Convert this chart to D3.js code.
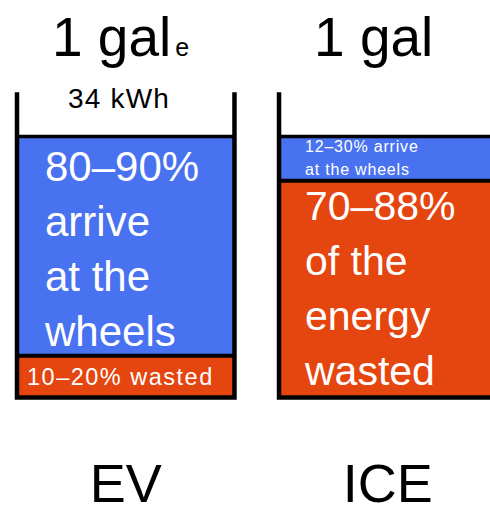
<!DOCTYPE html>
<html>
<head>
<meta charset="utf-8">
<script src="https://cdn.jsdelivr.net/npm/d3@7"></script>
<style>
  html, body { margin: 0; padding: 0; background: #fff; }
  svg { display: block; }
  text { font-family: "Liberation Sans", Arial, Helvetica, sans-serif; }
</style>
</head>
<body>
<svg id="chart" width="490" height="505"></svg>
<script>
// Energy per gallon (or gallon-equivalent) that reaches the wheels vs. is wasted
const vehicles = ["EV", "ICE"];
const arrivePct = [84, 17];
const wastedPct = [16, 83];
const tankCapacity = 117;           // cup drawn a little taller than the filled 100%
const titleMain = ["1 gal", "1 gal"];
const titleSub = ["e", ""];
const capacityLabels = ["34 kWh", ""];
const arriveLines = [["80–90%", "arrive", "at the", "wheels"], ["12–30% arrive", "at the wheels"]];
const wastedLines = [["10–20% wasted"], ["70–88%", "of the", "energy", "wasted"]];

const COLORS = { arrive: "#4872F0", wasted: "#E5450F", ink: "#000" };

// Text styles for segment labels: [vehicle][segment]
const labelStyle = {
  arrive: [
    { size: 42, spacing: 0, dx: 28, first: 43, lead: 55 },
    { size: 16, spacing: 0.8, dx: 26, first: 14, lead: 23 }
  ],
  wasted: [
    { size: 23.5, spacing: 1.5, dx: 10, first: 28, lead: 26 },
    { size: 41, spacing: 0, dx: 26, first: 37, lead: 55 }
  ]
};

const svg = d3.select("#chart");

const x = d3.scaleBand()
  .domain(vehicles)
  .range([17, 496.5])
  .paddingInner(0.17)
  .paddingOuter(0);

const y = d3.scaleLinear()
  .domain([0, 100])
  .range([397.5, 136.5]);

const data = vehicles.map((v, i) => ({
  v, i,
  arrive: arrivePct[i],
  wasted: wastedPct[i]
}));

const g = svg.selectAll("g.tank").data(data).join("g").attr("class", "tank");

// wasted fill at the bottom, arriving energy stacked on top
g.append("rect")
  .attr("x", d => x(d.v))
  .attr("width", x.bandwidth())
  .attr("y", d => y(d.wasted))
  .attr("height", d => y(0) - y(d.wasted))
  .attr("fill", COLORS.wasted);

g.append("rect")
  .attr("x", d => x(d.v))
  .attr("width", x.bandwidth())
  .attr("y", d => y(d.wasted + d.arrive))
  .attr("height", d => y(d.wasted) - y(d.wasted + d.arrive))
  .attr("fill", COLORS.arrive);

// dividing lines: fill level and arrive/wasted boundary
g.append("line")
  .attr("x1", d => x(d.v)).attr("x2", d => x(d.v) + x.bandwidth())
  .attr("y1", d => y(d.wasted + d.arrive)).attr("y2", d => y(d.wasted + d.arrive))
  .attr("stroke", COLORS.ink).attr("stroke-width", 3.5);

g.append("line")
  .attr("x1", d => x(d.v)).attr("x2", d => x(d.v) + x.bandwidth())
  .attr("y1", d => y(d.wasted)).attr("y2", d => y(d.wasted))
  .attr("stroke", COLORS.ink).attr("stroke-width", 4);

// open-top cup outline
g.append("path")
  .attr("d", d => {
    const x0 = x(d.v), x1 = x0 + x.bandwidth();
    return `M${x0},${y(tankCapacity)}V${y(0)}H${x1}V${y(tankCapacity)}`;
  })
  .attr("fill", "none")
  .attr("stroke", COLORS.ink)
  .attr("stroke-width", 4.5)
  .attr("stroke-linejoin", "miter");

// titles
const title = g.append("text")
  .attr("x", d => x(d.v) + 35)
  .attr("y", 56)
  .attr("font-size", 55)
  .attr("fill", COLORS.ink);
title.append("tspan").text(d => titleMain[d.i]);
title.append("tspan")
  .attr("font-size", 25)
  .attr("dx", 4)
  .text(d => titleSub[d.i]);

g.append("text")
  .attr("x", d => x(d.v) + 51)
  .attr("y", 108)
  .attr("font-size", 28)
  .attr("letter-spacing", 1.2)
  .attr("fill", COLORS.ink)
  .text(d => capacityLabels[d.i]);

// segment labels
function drawLines(sel, key, lines, topValue) {
  sel.each(function (d) {
    const st = labelStyle[key][d.i];
    const top = y(topValue(d)) + 1.75;
    d3.select(this).append("g")
      .selectAll("text")
      .data(lines[d.i])
      .join("text")
      .attr("x", x(d.v) + st.dx)
      .attr("y", (t, j) => top + st.first + j * st.lead)
      .attr("font-size", st.size)
      .attr("letter-spacing", st.spacing)
      .attr("fill", "#fff")
      .text(t => t);
  });
}
drawLines(g, "arrive", arriveLines, d => d.wasted + d.arrive);
drawLines(g, "wasted", wastedLines, d => d.wasted);

// vehicle names
g.append("text")
  .attr("x", d => x(d.v) + x.bandwidth() / 2)
  .attr("y", 502)
  .attr("text-anchor", "middle")
  .attr("font-size", 54)
  .attr("fill", COLORS.ink)
  .text(d => d.v);
</script>
</body>
</html>
